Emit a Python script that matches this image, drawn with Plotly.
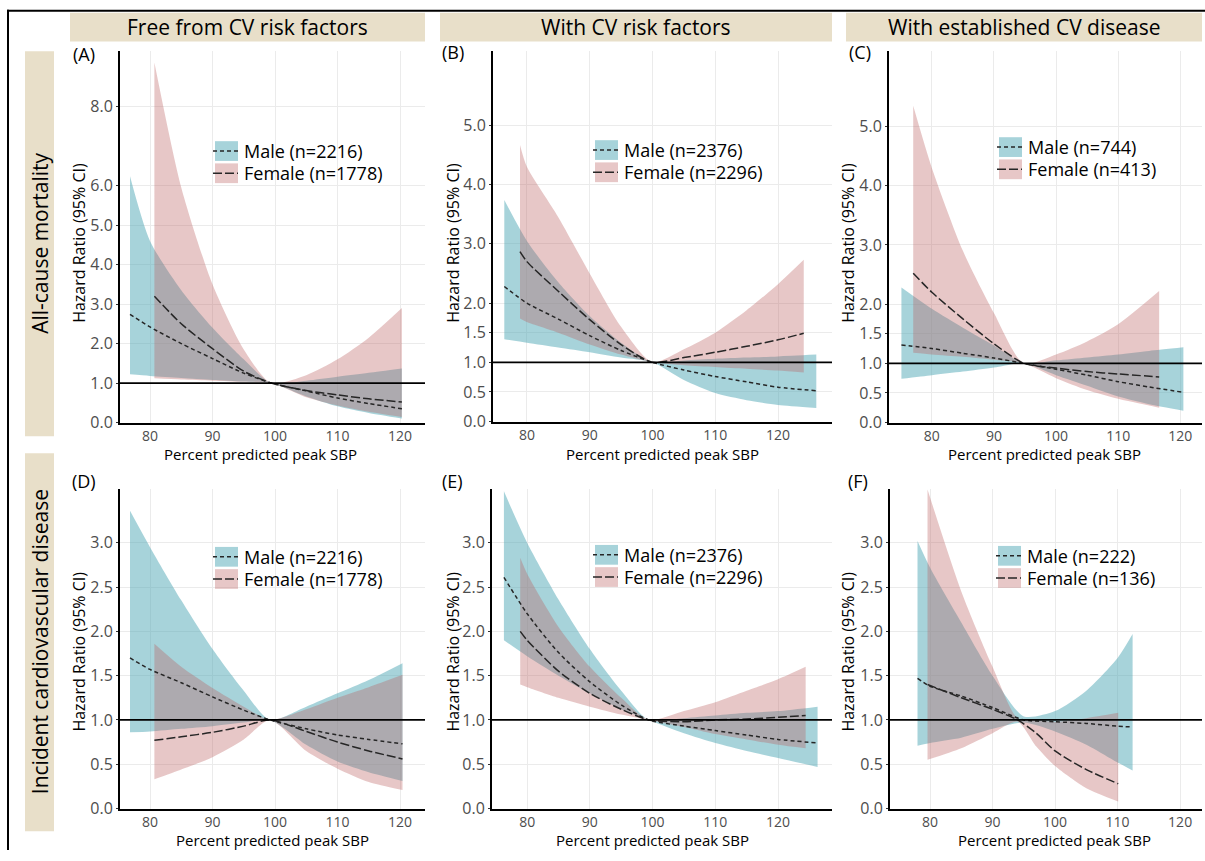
import plotly.graph_objects as go

W, H = 1205, 861
FONT = "Open Sans"

# ---------------- data ----------------
# Panel A : all-cause mortality, free from CV risk factors
A_m_x = [76.8, 80, 85, 90, 95, 99.4, 105, 110, 115, 120.3]
A_m_hr = [2.74, 2.42, 2.0, 1.62, 1.25, 1.0, 0.8, 0.62, 0.48, 0.35]
A_m_lo = [1.22, 1.18, 1.13, 1.08, 1.04, 1.0, 0.66, 0.41, 0.24, 0.1]
A_m_hi = [6.24, 4.6, 3.35, 2.4, 1.6, 1.0, 1.06, 1.16, 1.26, 1.37]
A_f_x = [80.7, 85, 90, 95, 99.4, 105, 110, 115, 120.3]
A_f_hr = [3.2, 2.5, 1.87, 1.3, 1.0, 0.81, 0.7, 0.6, 0.52]
A_f_lo = [1.12, 1.09, 1.06, 1.03, 1.0, 0.64, 0.43, 0.27, 0.14]
A_f_hi = [9.12, 5.95, 3.5, 1.85, 1.0, 1.2, 1.6, 2.15, 2.9]

# Panel B : all-cause mortality, with CV risk factors
B_m_x = [76.4, 80, 85, 90, 95, 100, 105, 110, 115, 120, 126.1]
B_m_hr = [2.28, 2.0, 1.73, 1.45, 1.2, 1.0, 0.87, 0.76, 0.67, 0.58, 0.52]
B_m_lo = [1.39, 1.33, 1.25, 1.17, 1.08, 1.0, 0.7, 0.48, 0.36, 0.28, 0.23]
B_m_hi = [3.74, 3.05, 2.35, 1.78, 1.33, 1.0, 1.03, 1.06, 1.08, 1.1, 1.13]
B_f_x = [78.9, 80, 85, 90, 95, 100, 105, 110, 115, 120, 124.1]
B_f_hr = [2.87, 2.7, 2.2, 1.72, 1.3, 1.0, 1.08, 1.17, 1.27, 1.38, 1.49]
B_f_lo = [1.74, 1.68, 1.5, 1.3, 1.13, 1.0, 0.95, 0.92, 0.89, 0.86, 0.83]
B_f_hi = [4.67, 4.3, 3.45, 2.5, 1.6, 1.0, 1.22, 1.5, 1.88, 2.32, 2.73]

# Panel C : all-cause mortality, with established CV disease
C_m_x = [75.1, 80, 85, 90, 94.8, 100, 105, 110, 115, 120.5]
C_m_hr = [1.31, 1.25, 1.17, 1.09, 1.0, 0.9, 0.8, 0.69, 0.6, 0.51]
C_m_lo = [0.74, 0.8, 0.86, 0.93, 1.0, 0.8, 0.62, 0.44, 0.31, 0.2]
C_m_hi = [2.28, 1.92, 1.6, 1.3, 1.0, 1.05, 1.1, 1.15, 1.21, 1.27]
C_f_x = [77.0, 80, 85, 90, 94.8, 100, 105, 110, 116.6]
C_f_hr = [2.52, 2.2, 1.75, 1.33, 1.0, 0.92, 0.86, 0.82, 0.77]
C_f_lo = [1.18, 1.15, 1.11, 1.06, 1.0, 0.75, 0.55, 0.4, 0.25]
C_f_hi = [5.35, 4.3, 2.9, 1.85, 1.0, 1.15, 1.37, 1.66, 2.22]

# Panel D : incident CVD, free from CV risk factors
D_m_x = [76.8, 80, 85, 90, 95, 99.2, 105, 110, 115, 120.4]
D_m_hr = [1.7, 1.57, 1.42, 1.26, 1.11, 1.0, 0.9, 0.83, 0.78, 0.73]
D_m_lo = [0.86, 0.87, 0.9, 0.93, 0.97, 1.0, 0.72, 0.53, 0.41, 0.31]
D_m_hi = [3.36, 2.95, 2.35, 1.8, 1.33, 1.0, 1.15, 1.3, 1.45, 1.64]
D_f_x = [80.7, 85, 90, 95, 99.2, 105, 110, 115, 120.4]
D_f_hr = [0.77, 0.81, 0.86, 0.93, 1.0, 0.87, 0.75, 0.65, 0.56]
D_f_lo = [0.33, 0.44, 0.58, 0.78, 1.0, 0.65, 0.45, 0.3, 0.21]
D_f_hi = [1.86, 1.6, 1.36, 1.15, 1.0, 1.12, 1.25, 1.37, 1.51]

# Panel E : incident CVD, with CV risk factors
E_m_x = [76.3, 80, 85, 90, 95, 99.4, 105, 110, 115, 120, 126.3]
E_m_hr = [2.61, 2.2, 1.76, 1.43, 1.17, 1.0, 0.93, 0.88, 0.83, 0.78, 0.74]
E_m_lo = [1.9, 1.72, 1.5, 1.3, 1.12, 1.0, 0.85, 0.74, 0.65, 0.57, 0.47]
E_m_hi = [3.58, 3.0, 2.36, 1.8, 1.33, 1.0, 1.02, 1.05, 1.08, 1.1, 1.15]
E_f_x = [78.9, 80, 85, 90, 95, 99.4, 105, 110, 115, 120, 124.4]
E_f_hr = [2.0, 1.9, 1.55, 1.3, 1.12, 1.0, 0.98, 1.0, 1.01, 1.03, 1.05]
E_f_lo = [1.4, 1.37, 1.25, 1.15, 1.06, 1.0, 0.92, 0.84, 0.78, 0.72, 0.68]
E_f_hi = [2.83, 2.65, 2.05, 1.6, 1.25, 1.0, 1.1, 1.2, 1.33, 1.46, 1.6]

# Panel F : incident CVD, with established CV disease
F_m_x = [78.0, 80, 85, 90, 95, 100, 105, 110, 112.4]
F_m_hr = [1.47, 1.38, 1.27, 1.14, 1.0, 0.98, 0.96, 0.93, 0.92]
F_m_lo = [0.71, 0.74, 0.8, 0.9, 0.97, 0.87, 0.72, 0.52, 0.43]
F_m_hi = [3.02, 2.72, 2.1, 1.5, 1.04, 1.1, 1.33, 1.7, 1.97]
F_f_x = [79.6, 85, 90, 94, 97, 100, 105, 110.1]
F_f_hr = [1.4, 1.25, 1.12, 1.0, 0.85, 0.65, 0.44, 0.28]
F_f_lo = [0.55, 0.68, 0.85, 0.98, 0.7, 0.48, 0.23, 0.08]
F_f_hi = [3.6, 2.45, 1.6, 1.02, 1.0, 0.98, 1.02, 1.08]

COL_HEADERS = ["Free from CV risk factors", "With CV risk factors", "With established CV disease"]
ROW_HEADERS = ["All-cause mortality", "Incident cardiovascular disease"]
PANEL_LABELS = ["(A)", "(B)", "(C)", "(D)", "(E)", "(F)"]
MALE_LABELS = ["Male (n=2216)", "Male (n=2376)", "Male (n=744)",
               "Male (n=2216)", "Male (n=2376)", "Male (n=222)"]
FEMALE_LABELS = ["Female (n=1778)", "Female (n=2296)", "Female (n=413)",
                 "Female (n=1778)", "Female (n=2296)", "Female (n=136)"]
X_TICKS = [80, 90, 100, 110, 120]
Y_TICKS_A = [0, 1, 2, 3, 4, 5, 6, 8]
Y_TICKS_BC = [0, 0.5, 1, 1.5, 2, 3, 4, 5]
Y_TICKS_DEF = [0, 0.5, 1, 1.5, 2, 2.5, 3]
X_TITLE = "Percent predicted peak SBP"
Y_TITLE = "Hazard Ratio (95% CI)"

# ---------------- styling / geometry ----------------
MALE_FILL = "rgba(80,168,182,0.5)"
FEMALE_FILL = "rgba(185,95,95,0.35)"
LINE_COL = "#262626"
MALE_DASH = "4px,3px"
FEMALE_DASH = "9px,3px"
HEADER_BG = "#E8DFC9"
TICK_COL = "#4D4D4D"
GRID_COL = "#EBEBEB"

panels = [
    dict(data=(A_m_x, A_m_hr, A_m_lo, A_m_hi, A_f_x, A_f_hr, A_f_lo, A_f_hi),
         px=(120, 425), py=(52, 428), xr=(75.2, 124.0), yr=(0, 9.4), yt=Y_TICKS_A,
         leg=(215, 143), lab=(84, 55), xt=(260, 460), ytx=79, yty=246),
    dict(data=(B_m_x, B_m_hr, B_m_lo, B_m_hi, B_f_x, B_f_hr, B_f_lo, B_f_hi),
         px=(493, 832), py=(52, 427), xr=(74.6, 128.6), yr=(0, 6.25), yt=Y_TICKS_BC,
         leg=(595, 142), lab=(453, 53), xt=(662, 460), ytx=453, yty=246),
    dict(data=(C_m_x, C_m_hr, C_m_lo, C_m_hi, C_f_x, C_f_hr, C_f_lo, C_f_hi),
         px=(889, 1202), py=(52, 428), xr=(73.1, 123.5), yr=(0, 6.27), yt=Y_TICKS_BC,
         leg=(999, 139), lab=(860, 53), xt=(1044, 460), ytx=848, yty=246),
    dict(data=(D_m_x, D_m_hr, D_m_lo, D_m_hi, D_f_x, D_f_hr, D_f_lo, D_f_hi),
         px=(120, 425), py=(495, 819), xr=(75.2, 124.0), yr=(0, 3.61), yt=Y_TICKS_DEF,
         leg=(215, 554), lab=(84, 487), xt=(272, 851), ytx=79, yty=660),
    dict(data=(E_m_x, E_m_hr, E_m_lo, E_m_hi, E_f_x, E_f_hr, E_f_lo, E_f_hi),
         px=(492, 832), py=(495, 819), xr=(74.4, 128.6), yr=(0, 3.61), yt=Y_TICKS_DEF,
         leg=(595, 552), lab=(452, 487), xt=(652, 851), ytx=453, yty=660),
    dict(data=(F_m_x, F_m_hr, F_m_lo, F_m_hi, F_f_x, F_f_hr, F_f_lo, F_f_hi),
         px=(890, 1202), py=(495, 819), xr=(73.6, 123.5), yr=(0, 3.61), yt=Y_TICKS_DEF,
         leg=(998, 553), lab=(858, 487), xt=(1054, 851), ytx=848, yty=660),
]


def fx(p):
    return p / W


def fy(p):
    return 1 - p / H


fig = go.Figure()
shapes = []
annotations = []

for i, p in enumerate(panels):
    s = "" if i == 0 else str(i + 1)
    xa, ya = "x" + s, "y" + s
    mx, mhr, mlo, mhi, fxs, fhr, flo, fhi = p["data"]
    spl = dict(shape="spline", smoothing=0.7)
    common = dict(xaxis=xa, yaxis=ya, mode="lines", hoverinfo="skip", showlegend=False)
    # male ribbon
    fig.add_trace(go.Scatter(x=mx, y=mlo, line=dict(width=0, **spl), **common))
    fig.add_trace(go.Scatter(x=mx, y=mhi, fill="tonexty", fillcolor=MALE_FILL,
                             line=dict(width=0, **spl), **common))
    # female ribbon
    fig.add_trace(go.Scatter(x=fxs, y=flo, line=dict(width=0, **spl), **common))
    fig.add_trace(go.Scatter(x=fxs, y=fhi, fill="tonexty", fillcolor=FEMALE_FILL,
                             line=dict(width=0, **spl), **common))
    # estimate lines
    fig.add_trace(go.Scatter(x=mx, y=mhr, name=MALE_LABELS[i],
                             line=dict(color=LINE_COL, width=1.5, dash=MALE_DASH, **spl), **common))
    fig.add_trace(go.Scatter(x=fxs, y=fhr, name=FEMALE_LABELS[i],
                             line=dict(color=LINE_COL, width=1.5, dash=FEMALE_DASH, **spl), **common))

    axis_common = dict(showline=True, linecolor="black", linewidth=2, mirror=False,
                       showgrid=True, gridcolor=GRID_COL, gridwidth=1, zeroline=False)
    fig.update_layout(**{
        ("xaxis" + s): dict(domain=[fx(p["px"][0]), fx(p["px"][1])], range=list(p["xr"]),
                            tickvals=X_TICKS, ticktext=[str(v) for v in X_TICKS],
                            ticks="", tickfont=dict(family=FONT, size=14, color=TICK_COL),
                            anchor=ya, **axis_common),
        ("yaxis" + s): dict(domain=[fy(p["py"][1]), fy(p["py"][0])], range=list(p["yr"]),
                            tickvals=p["yt"], ticktext=["%.1f" % v for v in p["yt"]],
                            ticks="outside", ticklen=2, tickcolor="#333333", tickwidth=1,
                            tickfont=dict(family=FONT, size=16, color=TICK_COL),
                            anchor=xa, **axis_common),
    })
    # reference line at HR = 1
    shapes.append(dict(type="line", xref=xa + " domain", yref=ya, x0=0, x1=1, y0=1, y1=1,
                       line=dict(color="black", width=1.8), layer="above"))
    # legend (drawn key)
    lx, ly = p["leg"]
    for k, (fill, dash, txt) in enumerate([(MALE_FILL, MALE_DASH, MALE_LABELS[i]),
                                           (FEMALE_FILL, FEMALE_DASH, FEMALE_LABELS[i])]):
        y0 = ly + k * 22.5
        shapes.append(dict(type="rect", xref="paper", yref="paper",
                           x0=fx(lx), x1=fx(lx + 23), y0=fy(y0 + 20), y1=fy(y0),
                           fillcolor=fill, line=dict(width=0)))
        shapes.append(dict(type="line", xref="paper", yref="paper",
                           x0=fx(lx - 2), x1=fx(lx + 23), y0=fy(y0 + 10), y1=fy(y0 + 10),
                           line=dict(color=LINE_COL, width=1.5, dash=dash)))
        annotations.append(dict(text=txt, xref="paper", yref="paper", x=fx(lx + 27), y=fy(y0 + 10),
                                xanchor="left", yanchor="middle", showarrow=False,
                                font=dict(family=FONT, size=18, color="black")))
    # panel label
    annotations.append(dict(text=PANEL_LABELS[i], xref="paper", yref="paper",
                            x=fx(p["lab"][0]), y=fy(p["lab"][1]), xanchor="center", yanchor="middle",
                            showarrow=False, font=dict(family=FONT, size=18, color="black")))
    # axis titles
    annotations.append(dict(text=X_TITLE, xref="paper", yref="paper",
                            x=fx(p["xt"][0]), y=fy(p["xt"][1]), xanchor="center", yanchor="middle",
                            showarrow=False, font=dict(family=FONT, size=15, color="black")))
    annotations.append(dict(text=Y_TITLE, xref="paper", yref="paper", textangle=-90,
                            x=fx(p["ytx"]), y=fy(p["yty"]), xanchor="center", yanchor="middle",
                            showarrow=False, font=dict(family=FONT, size=16, color="black")))

# column headers
for (x0, x1), txt in zip([(70, 425), (440, 832), (846, 1202)], COL_HEADERS):
    shapes.append(dict(type="rect", xref="paper", yref="paper", x0=fx(x0), x1=fx(x1),
                       y0=fy(42), y1=fy(13), fillcolor=HEADER_BG, line=dict(width=0), layer="below"))
    annotations.append(dict(text=txt, xref="paper", yref="paper", x=fx((x0 + x1) / 2), y=fy(27.5),
                            xanchor="center", yanchor="middle", showarrow=False,
                            font=dict(family=FONT, size=21, color="black")))
# row headers
for (y0, y1), txt in zip([(52, 442), (459, 842)], ROW_HEADERS):
    shapes.append(dict(type="rect", xref="paper", yref="paper", x0=fx(25), x1=fx(54),
                       y0=fy(y1), y1=fy(y0), fillcolor=HEADER_BG, line=dict(width=0), layer="below"))
    annotations.append(dict(text=txt, xref="paper", yref="paper", x=fx(40), y=fy((y0 + y1) / 2),
                            textangle=-90, xanchor="center", yanchor="middle", showarrow=False,
                            font=dict(family=FONT, size=21, color="black")))
# outer frame (top and left)
shapes.append(dict(type="line", xref="paper", yref="paper", x0=fx(7), x1=1, y0=fy(11), y1=fy(11),
                   line=dict(color="black", width=2)))
shapes.append(dict(type="line", xref="paper", yref="paper", x0=fx(8), x1=fx(8), y0=0, y1=fy(10),
                   line=dict(color="black", width=2)))

fig.update_layout(width=W, height=H, margin=dict(l=0, r=0, t=0, b=0),
                  paper_bgcolor="white", plot_bgcolor="white",
                  shapes=shapes, annotations=annotations, showlegend=False,
                  font=dict(family=FONT))

PAGE_FIX = (
    "document.documentElement.style.margin='0';"
    "document.documentElement.style.overflow='hidden';"
    "document.body.style.margin='0';"
    "document.body.style.padding='0';"
    "document.body.style.overflow='hidden';"
)

fig.write_html("out.html", config={"displayModeBar": False}, post_script=PAGE_FIX)
